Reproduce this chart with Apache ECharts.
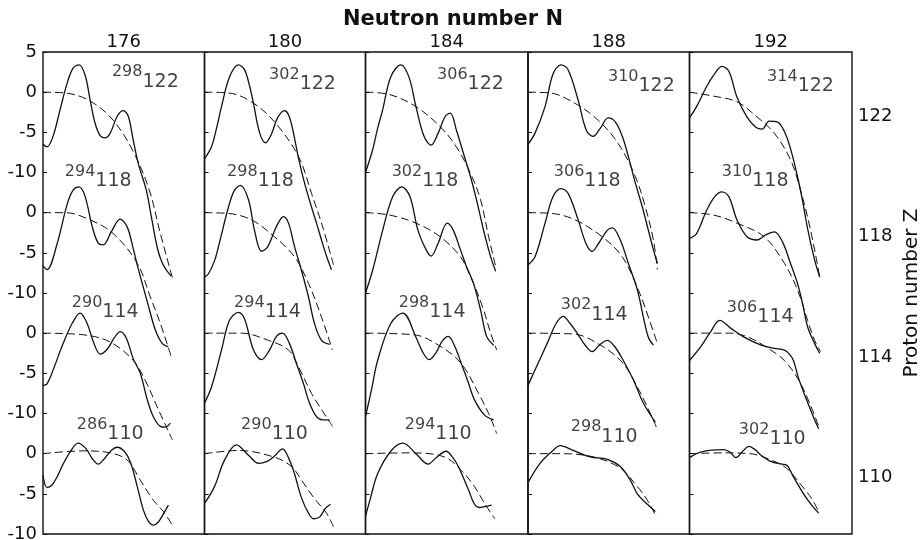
<!DOCTYPE html>
<html><head><meta charset="utf-8">
<script src="https://cdn.jsdelivr.net/npm/echarts@6/dist/echarts.min.js"></script>
<style>html,body{margin:0;padding:0;background:#fff}#chart{width:924px;height:540px}</style>
</head><body><div id="chart"></div>
<script>
// ---- categories / tick labels ----
const N_LABELS = ['176', '180', '184', '188', '192'];
const Z_LABELS = ['122', '118', '114', '110'];
// mass numbers per column (N) and row (Z)
const MASS_176 = [298, 294, 290, 286];
const MASS_180 = [302, 298, 294, 290];
const MASS_184 = [306, 302, 298, 294];
const MASS_188 = [310, 306, 302, 298];
const MASS_192 = [314, 310, 306, 302];

// ---- curves: [deformation (panel units), energy (MeV)] ----
// total energy (solid)  /  liquid-drop energy (dashed)
const total_298_122 = [[0,-6.5],[4,-6.8],[10,-5.5],[17,-2.2],[24,1.1],[30,3.0],[36,3.4],[42,2.1],[47,-1.0],[52,-3.9],[57,-5.4],[62,-5.7],[67,-5.1],[74,-3.0],[80,-2.3],[85,-3.0],[90,-6.0],[95,-8.9],[103,-12.2],[108,-15.5],[114,-19.4],[119,-21.3],[124,-22.3],[128,-22.9]];
const ld_298_122 = [[0,0],[22,-0.1],[47,-1.1],[70,-3.5],[90,-7.4],[106,-12.2],[117,-17.6],[129,-23.1]];
const total_294_118 = [[0,-6.6],[4,-7.1],[14,-3.9],[24,1.0],[30,2.8],[36,3.2],[42,2.0],[49,-1.7],[55,-3.8],[60,-4.0],[68,-2.4],[77,-0.8],[84,-1.8],[90,-4.5],[95,-7.0],[104,-11.1],[112,-14.6],[119,-16.3],[125,-16.7]];
const ld_294_118 = [[0,0],[22,0],[47,-0.9],[70,-2.6],[94,-6.3],[107,-10.5],[117,-13.8],[128,-18.0]];
const total_290_114 = [[0,-6.5],[4,-6.3],[10,-4.6],[20,-1.3],[29,1.2],[37,2.5],[44,1.2],[50,-1.0],[57,-2.6],[64,-2.0],[71,-0.6],[77,0.2],[83,-0.6],[90,-3.2],[97,-5.0],[104,-8.3],[110,-10.4],[117,-11.6],[122,-11.7],[127,-11.2]];
const ld_290_114 = [[0,0],[40,-0.2],[67,-1.1],[90,-3.4],[102,-5.9],[115,-9.5],[129,-13.3]];
const total_286_110 = [[0,-2.7],[4,-4.2],[9,-3.9],[14,-2.9],[20,-1.3],[27,0.2],[35,1.3],[43,0.6],[49,-0.6],[55,-1.3],[62,-0.5],[68,0.4],[74,0.8],[81,0.3],[87,-1.0],[94,-4.1],[100,-7.0],[105,-8.4],[110,-8.9],[115,-8.5],[120,-7.5],[125,-6.4]];
const ld_286_110 = [[0,0],[40,0.35],[67,0.1],[84,-0.8],[97,-3.3],[110,-5.8],[120,-7.2],[129,-8.9]];

const total_302_122 = [[0,-8.3],[7,-6.8],[12,-4.5],[17,-1.8],[25,1.9],[34,3.4],[40,2.8],[45,0.8],[49,-1.4],[55,-5.0],[61,-6.3],[67,-5.2],[73,-3.2],[80,-2.3],[84,-2.8],[88,-4.5],[94,-8.2],[100,-11.3],[107,-14.3],[112,-16.3],[117,-18.4],[122,-20.4],[127,-22.1]];
const ld_302_122 = [[0,0],[24,-0.1],[47,-1.2],[70,-3.7],[94,-8.0],[107,-12.6],[119,-17.1],[129,-21.5]];
const total_298_118 = [[0,-8.0],[4,-7.6],[10,-6.0],[14,-4.2],[24,0.7],[30,2.8],[36,3.4],[44,1.6],[50,-2.2],[57,-4.8],[63,-4.3],[72,-1.7],[79,-0.5],[84,-1.3],[90,-4.2],[97,-7.2],[104,-10.5],[110,-13.8],[117,-15.9],[125,-16.4]];
const ld_298_118 = [[0,0],[24,-0.1],[47,-0.9],[70,-3.0],[90,-5.5],[104,-8.8],[117,-13.0],[128,-17.1]];
const total_294_114 = [[0,-8.7],[7,-6.7],[17,-2.1],[25,1.6],[34,2.6],[40,1.8],[49,-2.1],[57,-3.3],[65,-2.1],[72,-0.4],[78,0],[85,-1.3],[92,-3.8],[99,-6.3],[105,-8.7],[112,-10.4],[118,-10.8],[125,-10.8]];
const ld_294_114 = [[0,0],[37,0],[64,-0.9],[84,-2.1],[94,-4.2],[107,-7.5],[117,-9.5],[128,-11.6]];
const total_290_110 = [[0,-6.2],[10,-4.1],[20,-0.8],[32,1.1],[44,-0.2],[54,-1.2],[62,-1.0],[70,-0.3],[78,0.6],[85,-0.8],[90,-2.5],[97,-5.5],[104,-7.4],[109,-8.1],[115,-7.9],[121,-6.8],[126,-6.3]];
const ld_290_110 = [[0,0],[34,0.4],[69,-0.4],[87,-1.6],[97,-3.3],[110,-5.6],[122,-7.4],[129,-9.1]];

const total_306_122 = [[0,-10.0],[7,-7.2],[12,-4.5],[17,-2.2],[25,1.9],[35,3.4],[43,1.9],[50,-1.8],[58,-5.5],[65,-6.6],[72,-5.1],[79,-3.0],[84,-2.6],[90,-4.7],[97,-7.6],[104,-10.5],[110,-13.4],[117,-17.2],[124,-20.5],[129,-22.3]];
const ld_306_122 = [[0,0],[24,-0.3],[50,-1.8],[74,-4.3],[90,-6.8],[104,-10.1],[114,-13.4],[122,-18.0],[129,-21.7]];
const total_302_118 = [[0,-10.0],[7,-7.2],[17,-2.2],[27,2.0],[36,3.2],[44,2.0],[52,-2.2],[60,-4.6],[65,-5.4],[72,-3.8],[81,-1.3],[87,-2.2],[94,-4.6],[100,-6.7],[107,-8.8],[114,-12.1],[120,-15.4],[127,-16.5]];
const ld_302_118 = [[0,0],[24,-0.3],[50,-1.3],[74,-3.0],[94,-5.5],[107,-8.8],[117,-12.1],[124,-15.0],[130,-17.1]];
const total_298_114 = [[0,-10.4],[6,-7.0],[12,-3.4],[25,1.2],[37,2.5],[50,-0.5],[56,-2.2],[63,-3.3],[70,-2.4],[76,-1.0],[82,-0.4],[88,-1.5],[95,-3.8],[102,-6.2],[108,-8.3],[118,-10.2],[127,-10.8]];
const ld_298_114 = [[0,0],[48,-0.2],[75,-1.7],[95,-3.8],[112,-7.5],[122,-10.0],[130,-12.5]];
const total_294_110 = [[0,-7.8],[5,-5.5],[12,-2.5],[25,0.3],[37,1.3],[50,0],[62,-1.3],[70,-0.5],[80,0.3],[86,-0.4],[92,-1.6],[102,-4.5],[108,-6.3],[113,-6.7],[118,-6.6],[125,-6.4]];
const ld_294_110 = [[0,0],[45,0.1],[78,-0.4],[95,-2.1],[108,-4.1],[118,-6.2],[128,-8.1]];

const total_310_122 = [[0,-6.5],[7,-5.1],[17,-1.8],[25,2.3],[33,3.4],[40,2.8],[50,-1.0],[58,-4.7],[65,-5.5],[72,-4.5],[80,-3.2],[87,-3.7],[94,-5.5],[100,-8.0],[107,-11.3],[114,-14.3],[120,-17.2],[125,-19.6],[129,-21.3]];
const ld_310_122 = [[0,0],[22,-0.1],[47,-1.4],[70,-3.5],[90,-6.4],[107,-10.5],[117,-14.3],[125,-18.4],[129,-22.1]];
const total_306_118 = [[0,-6.5],[7,-5.5],[17,-1.3],[25,2.0],[33,3.0],[40,2.4],[50,-0.9],[58,-3.9],[64,-4.8],[70,-3.9],[79,-2.2],[84,-1.9],[92,-3.4],[100,-6.3],[109,-9.6],[115,-13.0],[120,-15.5],[125,-16.5]];
const ld_306_118 = [[0,0],[24,-0.1],[47,-0.9],[74,-3.0],[94,-5.5],[110,-9.6],[120,-13.0],[129,-16.3]];
const total_302_114 = [[0,-6.5],[8,-4.3],[19,-1.3],[28,1.2],[35,2.1],[42,1.2],[49,0],[57,-1.5],[64,-2.3],[71,-1.5],[79,-0.9],[86,-1.6],[95,-3.4],[105,-5.8],[115,-8.7],[127,-11.1]];
const ld_302_114 = [[0,0],[45,-0.1],[75,-1.7],[95,-3.8],[109,-6.7],[119,-9.2],[128,-11.7]];
const total_298_110 = [[0,-3.6],[12,-1.2],[25,0.4],[32,1.0],[45,0.4],[62,-0.4],[79,-0.7],[92,-1.6],[102,-3.3],[109,-5.0],[119,-6.3],[127,-7.2]];
const ld_298_110 = [[0,0],[32,0],[65,-0.4],[92,-1.8],[109,-4.1],[119,-5.8],[128,-7.9]];

const total_314_122 = [[0,-3.2],[7,-1.8],[17,0.7],[25,2.3],[32,3.2],[39,2.6],[47,-0.6],[57,-3.1],[66,-4.4],[72,-4.6],[79,-3.6],[87,-3.7],[94,-4.9],[100,-7.0],[107,-10.5],[112,-13.5],[117,-17.0],[124,-20.9],[129,-23.0]];
const ld_314_122 = [[0,0],[24,-0.5],[47,-1.2],[67,-3.1],[84,-5.1],[100,-8.4],[110,-12.2],[120,-17.2],[129,-23.0]];
const total_310_118 = [[0,-3.2],[7,-2.6],[17,0.3],[25,2.0],[32,2.6],[39,2.0],[47,-0.9],[57,-3.0],[67,-3.4],[75,-2.8],[84,-2.4],[92,-3.6],[100,-6.3],[107,-8.8],[112,-11.3],[117,-14.2],[124,-16.3],[129,-17.5]];
const ld_310_118 = [[0,0],[24,-0.3],[47,-1.3],[74,-3.0],[94,-6.3],[107,-9.6],[117,-13.4],[124,-15.9],[130,-17.3]];
const total_306_114 = [[0,-3.4],[11,-1.7],[21,0.2],[30,1.6],[41,0.6],[54,-0.5],[71,-1.5],[84,-1.9],[94,-2.1],[99,-2.6],[103,-3.4],[108,-5.6],[116,-8.3],[124,-10.8],[128,-11.9]];
const ld_306_114 = [[0,0],[41,0],[60,-0.6],[78,-1.9],[94,-3.4],[108,-5.8],[119,-8.7],[128,-11.6]];
const total_302_110 = [[0,-0.5],[11,0.2],[34,0.5],[40,0.2],[46,-0.5],[52,0.2],[59,0.9],[65,0.5],[71,-0.2],[81,-1.0],[92,-1.3],[97,-1.5],[103,-2.9],[113,-5.0],[121,-6.4],[128,-7.4]];
const ld_302_110 = [[0,0],[34,0.1],[60,0],[81,-0.8],[96,-1.8],[110,-3.8],[121,-5.6],[128,-7.2]];

// ---- assemble ----
const MASS = [MASS_176, MASS_180, MASS_184, MASS_188, MASS_192];
const CURVES = {
  '298_122':[total_298_122, ld_298_122], '294_118':[total_294_118, ld_294_118], '290_114':[total_290_114, ld_290_114], '286_110':[total_286_110, ld_286_110],
  '302_122':[total_302_122, ld_302_122], '298_118':[total_298_118, ld_298_118], '294_114':[total_294_114, ld_294_114], '290_110':[total_290_110, ld_290_110],
  '306_122':[total_306_122, ld_306_122], '302_118':[total_302_118, ld_302_118], '298_114':[total_298_114, ld_298_114], '294_110':[total_294_110, ld_294_110],
  '310_122':[total_310_122, ld_310_122], '306_118':[total_306_118, ld_306_118], '302_114':[total_302_114, ld_302_114], '298_110':[total_298_110, ld_298_110],
  '314_122':[total_314_122, ld_314_122], '310_118':[total_310_118, ld_310_118], '306_114':[total_306_114, ld_306_114], '302_110':[total_302_110, ld_302_110]
};

// layout (not data)
const ROW_STEP = 15;                       // MeV offset between stacked rows
const GRID_EDGES = [43, 204.5, 365.5, 528, 689.5, 852];
const LABEL_POS = [                         // [deformation, MeV] anchor of nucleus label, per column/row
  [[102,1.8],[55,4.4],[62,3.1],[67,2.9]],
  [[98,1.5],[56,4.4],[63,3.1],[70,2.9]],
  [[104,1.5],[59,4.4],[66,3.1],[72,2.9]],
  [[113,1.2],[59,4.4],[66,2.8],[76,2.6]],
  [[110,1.2],[65,4.4],[70,2.5],[82,2.3]]
];
const FONT = 'DejaVu Sans';
const INK = '#111';

const grid = [], xAxis = [], yAxis = [], series = [];
for (let c = 0; c < 5; c++) {
  grid.push({left: GRID_EDGES[c], width: GRID_EDGES[c+1] - GRID_EDGES[c], top: 52, height: 482,
    outerBoundsMode: 'none', containLabel: false,
    show: true, borderColor: INK, borderWidth: 1.4, backgroundColor: 'transparent'});
  xAxis.push({type: 'value', gridIndex: c, min: 0, max: 161, position: 'top',
    axisLine: {show: false}, axisTick: {show: false}, axisLabel: {show: false}, splitLine: {show: false},
    name: N_LABELS[c], nameLocation: 'middle', nameGap: 1,
    nameTextStyle: {fontSize: 18, color: INK, fontFamily: FONT}});
  yAxis.push({type: 'value', gridIndex: c, min: -55, max: 5, interval: 5,
    axisLine: {show: false}, splitLine: {show: false},
    axisTick: {show: true, inside: true, length: 4, lineStyle: {color: INK, width: 1}},
    axisLabel: {show: c === 0, margin: 6, fontSize: 18, color: INK, fontFamily: FONT,
      formatter: v => v > 0 ? String(v) : String(v + ROW_STEP * Math.floor(-v / ROW_STEP))}});
}
const Z_LEVELS = Z_LABELS.map((_, r) => -3 - ROW_STEP * r);
yAxis.push({type: 'value', gridIndex: 4, position: 'right', min: -55, max: 5,
  axisLine: {show: false}, axisTick: {show: false}, splitLine: {show: false},
  axisLabel: {show: true, customValues: Z_LEVELS, margin: 6, fontSize: 18, color: INK, fontFamily: FONT,
    formatter: v => Z_LABELS[Math.round((-3 - v) / ROW_STEP)] || ''},
  name: 'Proton number Z', nameLocation: 'middle', nameRotate: 90, nameGap: 50,
  nameTextStyle: {fontSize: 20, color: INK, fontFamily: FONT}});

for (let c = 0; c < 5; c++) {
  const labelData = [];
  for (let r = 0; r < 4; r++) {
    const A = MASS[c][r], Z = Z_LABELS[r];
    const [tot, ld] = CURVES[A + '_' + Z];
    const off = -ROW_STEP * r;
    series.push({type: 'line', xAxisIndex: c, yAxisIndex: c, smooth: 0.35, symbol: 'none', silent: true, z: 3,
      data: tot.map(p => [p[0], p[1] + off]), lineStyle: {color: INK, width: 1.3}});
    series.push({type: 'line', xAxisIndex: c, yAxisIndex: c, smooth: 0.35, symbol: 'none', silent: true, z: 2,
      data: ld.map(p => [p[0], p[1] + off]), lineStyle: {color: INK, width: 1, type: [8, 4]}});
    labelData.push({value: [LABEL_POS[c][r][0], LABEL_POS[c][r][1] + off], A: A, Z: Z});
  }
  series.push({type: 'scatter', xAxisIndex: c, yAxisIndex: c, symbolSize: 0, silent: true, z: 5,
    data: labelData,
    label: {show: true, position: 'inside', color: INK, fontFamily: FONT,
      formatter: p => '{a|' + p.data.A + '}{z|' + p.data.Z + '}',
      rich: {
        a: {fontSize: 16, fontFamily: FONT, color: INK, lineHeight: 27, verticalAlign: 'top'},
        z: {fontSize: 19, fontFamily: FONT, color: INK, lineHeight: 27, verticalAlign: 'bottom'}
      }}});
}

const chart = echarts.init(document.getElementById('chart'), null, {renderer: 'canvas'});
chart.setOption({
  backgroundColor: '#fff',
  animation: false,
  title: {text: 'Neutron number N', left: 448, top: 4, textAlign: 'center',
    textStyle: {fontSize: 21, fontWeight: 'bold', color: INK, fontFamily: FONT}},
  grid, xAxis, yAxis, series
});
</script></body></html>
